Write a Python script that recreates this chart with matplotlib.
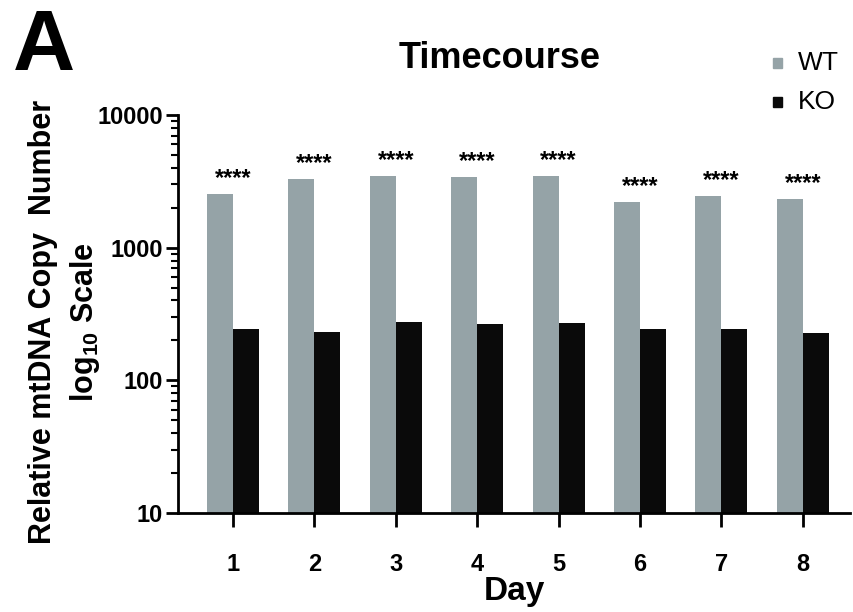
import matplotlib
matplotlib.use("Agg")
import matplotlib.pyplot as plt
from matplotlib.patches import Rectangle
from matplotlib.ticker import LogLocator, NullFormatter
import numpy as np

plt.rcParams['font.family'] = ['Liberation Sans', 'DejaVu Sans']
plt.rcParams['mathtext.fontset'] = 'custom'
plt.rcParams['mathtext.rm'] = 'Liberation Sans:bold'
plt.rcParams['mathtext.bf'] = 'Liberation Sans:bold'

days = [1, 2, 3, 4, 5, 6, 7, 8]
wt = [2540, 3290, 3460, 3400, 3460, 2210, 2450, 2330]
ko = [243, 231, 275, 266, 270, 243, 243, 227]
stars = ["****"] * 8
series_names = ["WT", "KO"]

WT_COLOR = "#95a3a7"
KO_COLOR = "#0a0a0a"

W, H = 854, 612
fig = plt.figure(figsize=(W / 100, H / 100), dpi=100)
ax = fig.add_axes([178 / W, 1 - 513 / H, (850 - 178) / W, (513 - 115) / H])

x = np.array(days, dtype=float)
w = 0.32
b1 = ax.bar(x - w/2, wt, width=w, color=WT_COLOR, label=series_names[0])
b2 = ax.bar(x + w/2, ko, width=w, color=KO_COLOR, label=series_names[1])

ax.set_yscale('log')
ax.set_ylim(10, 10000)
ax.set_xlim(0.324, 8.58)
ax.set_yticks([10, 100, 1000, 10000])
ax.set_yticklabels(["10", "100", "1000", "10000"])
ax.yaxis.set_minor_locator(LogLocator(base=10, subs=np.arange(2, 10)))
ax.yaxis.set_minor_formatter(NullFormatter())
ax.set_xticks(x)
ax.set_xticklabels([str(d) for d in days])

for xi, v, s in zip(x, wt, stars):
    ax.annotate(s, (xi, v), xytext=(0, 3), textcoords='offset points',
                ha='center', va='bottom', fontsize=17, fontweight='bold')

for sp in ['top', 'right']:
    ax.spines[sp].set_visible(False)
for sp in ['left', 'bottom']:
    ax.spines[sp].set_linewidth(2)

ax.tick_params(axis='y', which='major', length=9, width=2, labelsize=17, pad=2)
ax.tick_params(axis='y', which='minor', length=5, width=1.5)
ax.tick_params(axis='x', which='major', length=10, width=2, labelsize=17, pad=19)
for lab in ax.get_xticklabels() + ax.get_yticklabels():
    lab.set_fontweight('bold')

ax.set_xlabel("Day", fontsize=24, fontweight='bold', labelpad=0)
ax.set_ylabel("Relative mtDNA Copy  Number\nlog$_{10}$ Scale", fontsize=22,
              fontweight='bold', linespacing=1.4)
ax.yaxis.set_label_coords(-0.113, 0.48)

fig.text(500 / W, 1 - 68 / H, "Timecourse", ha='center', va='baseline',
         fontsize=26, fontweight='bold')
fig.text(13 / W, 1 - 70 / H, "A", ha='left', va='baseline', fontsize=62, fontweight='bold')

# legend
for name, col, yc in zip(series_names, [WT_COLOR, KO_COLOR], [63, 102]):
    fig.patches.append(Rectangle((773 / W, 1 - (yc + 5) / H), 9 / W, 10 / H,
                                 transform=fig.transFigure, color=col))
    fig.text(798 / W, 1 - yc / H, name, ha='left', va='center', fontsize=19)

fig.savefig("out.png", dpi=100)
